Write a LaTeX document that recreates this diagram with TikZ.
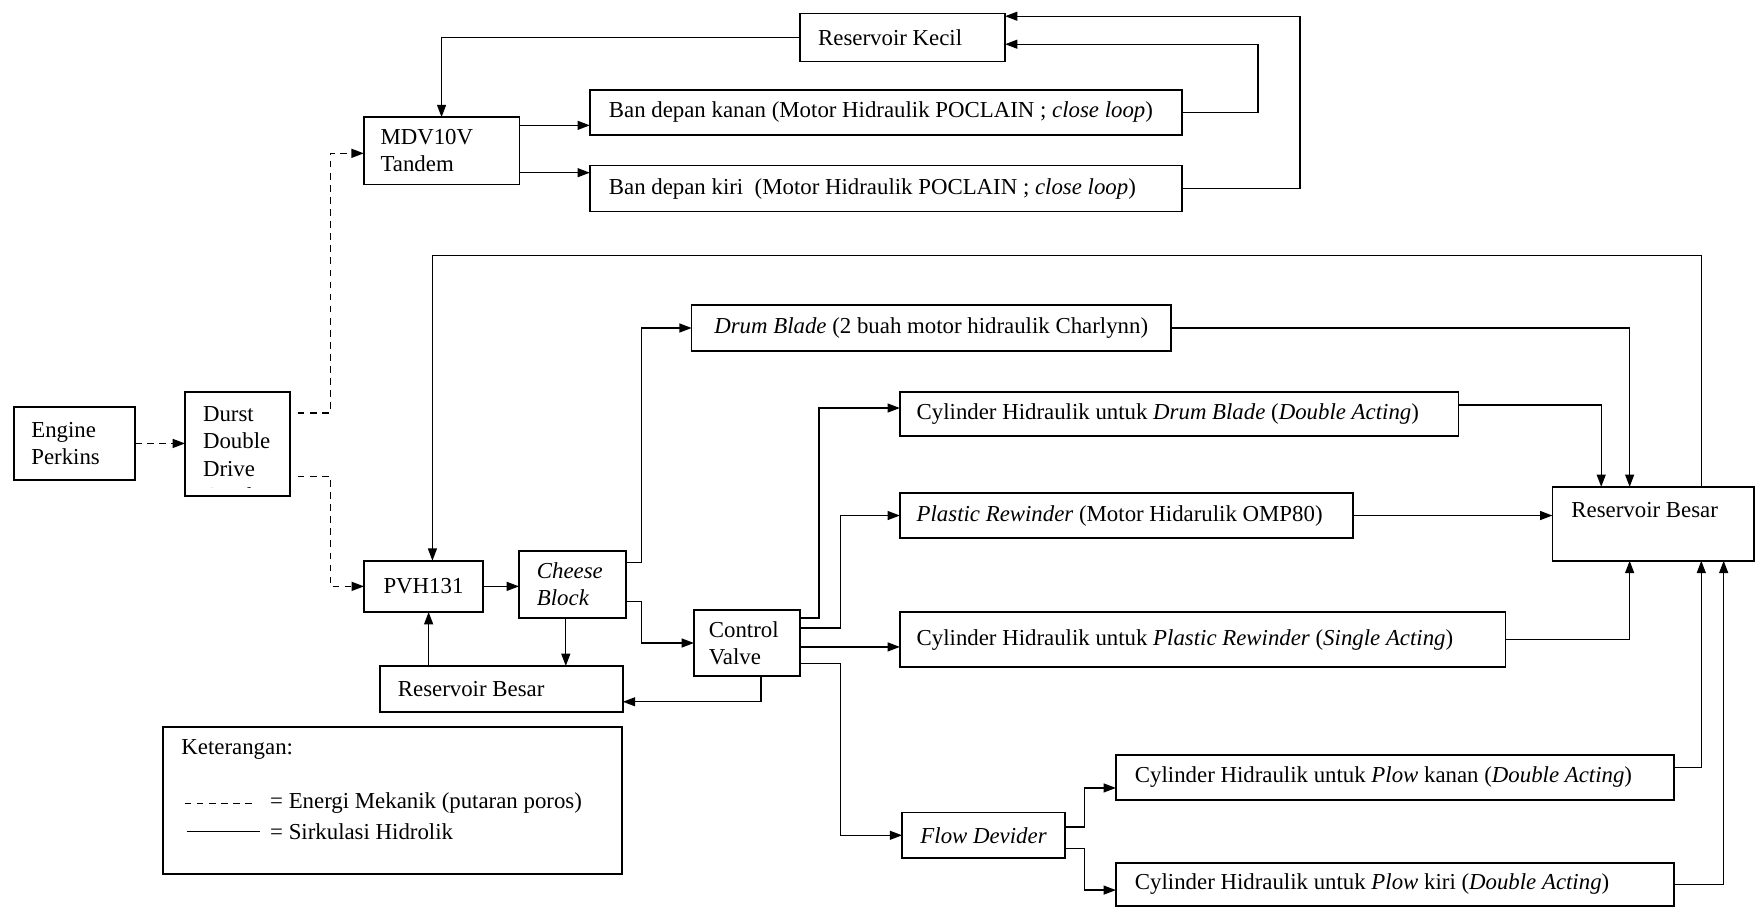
\documentclass[tikz,border=0pt]{standalone}
\usepackage{fontspec}
\setmainfont{Liberation Serif}
\usetikzlibrary{arrows.meta}

\begin{document}
\begin{tikzpicture}[x=0.5pt,y=-0.5pt,font=\fontsize{10.2}{12.2}\selectfont,
  kotak/.style={draw,line width=0.7pt,inner sep=0pt,outer sep=0pt,anchor=north west},
  kiri/.style={text width=#1,align=flush left},
  hid/.style={line width=0.6pt,-{Triangle[length=5.5pt,width=4pt]}},
  mek/.style={hid,dash pattern=on 3pt off 2.4pt}]
\useasboundingbox (0,0) rectangle (1568,812);

% penggerak
\node[kotak,minimum width=54pt,minimum height=32.6pt,kiri=38.5pt] (engine) at (12.5,363.6) {Engine\\Perkins};
\node[kotak,minimum width=46.85pt,minimum height=46.4pt] (durst) at (165.3,350.2) {};
\begin{scope}
\clip ([yshift=3.5pt]durst.south west) rectangle (durst.north east);
\node[anchor=north west,inner sep=0pt,align=left] (durstteks) at (181,363) {Durst\\Double\\Drive\\Gearbox};
\end{scope}

% sirkuit roda depan
\node[kotak,minimum width=69.5pt,minimum height=30pt,kiri=54.5pt] (mdv) at (325,104.7) {MDV10V\\Tandem};
\node[kotak,minimum width=91.5pt,minimum height=21.5pt,kiri=75.5pt] (reskecil) at (715,12) {Reservoir Kecil};
\node[kotak,minimum width=264.5pt,minimum height=20.1pt,kiri=256pt] (bankanan) at (527,80.4) {\hspace*{4.25pt}Ban depan kanan (Motor Hidraulik POCLAIN ; \textit{close loop})};
\node[kotak,minimum width=264.5pt,minimum height=20.5pt,kiri=256pt] (bankiri) at (527,148) {\hspace*{4.25pt}Ban depan kiri\ \ (Motor Hidraulik POCLAIN ; \textit{close loop})};

% sirkuit utama
\node[kotak,minimum width=53.15pt,minimum height=22.9pt] (pvh) at (325.2,501) {PVH131};
\node[kotak,minimum width=47.8pt,minimum height=29.9pt,kiri=31.8pt,font=\fontsize{10.2}{12.2}\selectfont\itshape] (cheese) at (463.7,492.3) {Cheese\\Block};
\node[kotak,minimum width=108.5pt,minimum height=20.5pt,kiri=92.5pt] (resbesarA) at (339.5,595) {Reservoir Besar};
\node[kotak,minimum width=47.35pt,minimum height=29.5pt,kiri=34pt] (cv) at (620,545) {Control\\Valve};
\node[kotak,minimum width=214pt,minimum height=20.55pt] (drum) at (618,272.5) {\textit{Drum Blade} (2 buah motor hidraulik Charlynn)};
\node[kotak,minimum width=249.5pt,minimum height=19.75pt,kiri=234.5pt] (cyldrum) at (804,350) {Cylinder Hidraulik untuk \textit{Drum Blade} (\textit{Double Acting})};
\node[kotak,minimum width=202.5pt,minimum height=20pt,kiri=187.5pt] (rewinder) at (804,440.6) {\textit{Plastic Rewinder} (Motor Hidarulik OMP80)};
\node[kotak,minimum width=270.5pt,minimum height=24.5pt,kiri=255.5pt] (cylrew) at (804,547) {Cylinder Hidraulik untuk \textit{Plastic Rewinder} (\textit{Single Acting})};
\node[kotak,minimum width=90pt,minimum height=33pt,kiri=73pt] (resbesarB) at (1387,435) {Reservoir Besar\\\mbox{}};
\node[kotak,minimum width=72.75pt,minimum height=20.3pt,font=\fontsize{10.2}{12.2}\selectfont\itshape] (flowdev) at (806,726) {Flow Devider};
\node[kotak,minimum width=249.3pt,minimum height=20.1pt,kiri=232.3pt] (plowkanan) at (997,674.5) {Cylinder Hidraulik untuk \textit{Plow} kanan (\textit{Double Acting})};
\node[kotak,minimum width=249.3pt,minimum height=19.25pt,kiri=232.3pt] (plowkiri) at (997,771) {Cylinder Hidraulik untuk \textit{Plow} kiri (\textit{Double Acting})};

% energi mekanik
\draw[mek] (engine.east) -- (engine.east -| durst.west);
\draw[mek] ([xshift=3.5pt,yshift=13.8pt]durst.east) -- ++(29,0) |- ([yshift=-1.15pt]mdv.west);
\draw[mek] ([xshift=3.5pt,yshift=-14.45pt]durst.east) -- ++(29,0) |- (pvh.west);

% sirkulasi roda depan
\draw[hid] (reskecil.west) -| (mdv.north);
\draw[hid] ([yshift=11.35pt]mdv.east) -- ([yshift=11.35pt]mdv.east -| bankanan.west);
\draw[hid] ([yshift=-9.8pt]mdv.east) -- ([yshift=-9.8pt]mdv.east -| bankiri.west);
\draw[hid] (bankanan.east) -- ++(68,0) |- ([yshift=-3pt]reskecil.east);
\draw[hid] (bankiri.east) -- ++(105.5,0) |- ([yshift=9.5pt]reskecil.east);

% sirkulasi utama
\draw[hid] (pvh.east) -- (pvh.east -| cheese.west);
\draw[hid] ([yshift=9.75pt]cheese.east) -- ++(14,0) |- (drum.west);
\draw[hid] ([yshift=-7.7pt]cheese.east) -- ++(14,0) |- (cv.west);
\draw[hid] ([xshift=-3pt]cheese.south) -- ([xshift=-3pt]cheese.south |- resbesarA.north);
\draw[hid] ([xshift=2.3pt]pvh.south |- resbesarA.north) -- ([xshift=2.3pt]pvh.south);
\draw[hid] ([xshift=6.3pt]cv.south) |- ([yshift=-5.75pt]resbesarA.east);
\draw[hid] ([yshift=11.25pt]cv.east) -- ++(17,0) |- ([yshift=2.6pt]cyldrum.west);
\draw[hid] ([yshift=6.75pt]cv.east) -- ++(36.3,0) |- (rewinder.west);
\draw[hid] ([yshift=-1.75pt]cv.east) -- ([yshift=-1.75pt]cv.east -| cylrew.west);
\draw[hid] ([yshift=-9.25pt]cv.east) -- ++(36.3,0) |- (flowdev.west);
\draw[hid] ([yshift=3.65pt]flowdev.east) -- ++(17.5,0) |- ([yshift=-4.7pt]plowkanan.west);
\draw[hid] ([yshift=-5.75pt]flowdev.east) -- ++(17.5,0) |- ([yshift=-2.5pt]plowkiri.west);

% kembali ke reservoir besar
\draw[hid] (drum.east) -| ([xshift=-10.5pt]resbesarB.north);
\draw[hid] ([yshift=3.9pt]cyldrum.east) -| ([xshift=-23.2pt]resbesarB.north);
\draw[hid] (rewinder.east) -- (rewinder.east -| resbesarB.west);
\draw[hid] (cylrew.east) -| ([xshift=-10.5pt]resbesarB.south);
\draw[hid] ([yshift=4.3pt]plowkanan.east) -| ([xshift=21.5pt]resbesarB.south);
\draw[hid] (plowkiri.east) -| ([xshift=31.5pt]resbesarB.south);
\draw[hid] ([xshift=21.5pt]resbesarB.north) -- ++(0,-207) -| ([xshift=4pt]pvh.north);

% keterangan
\node[kotak,minimum width=205pt,minimum height=65.65pt] (legenda) at (145.7,649.5) {};
\node[anchor=west,inner sep=0pt] (ket) at (161.7,670) {Keterangan:};
\draw[line width=0.6pt,dash pattern=on 3pt off 2.4pt] (165,717.6) -- (229.6,717.6);
\node[anchor=west,inner sep=0pt] (ketmek) at (241,717.6) {= Energi Mekanik (putaran poros)};
\draw[line width=0.6pt] (167,743) -- (232,743);
\node[anchor=west,inner sep=0pt] (kethid) at (241,743) {= Sirkulasi Hidrolik};
\end{tikzpicture}
\end{document}
